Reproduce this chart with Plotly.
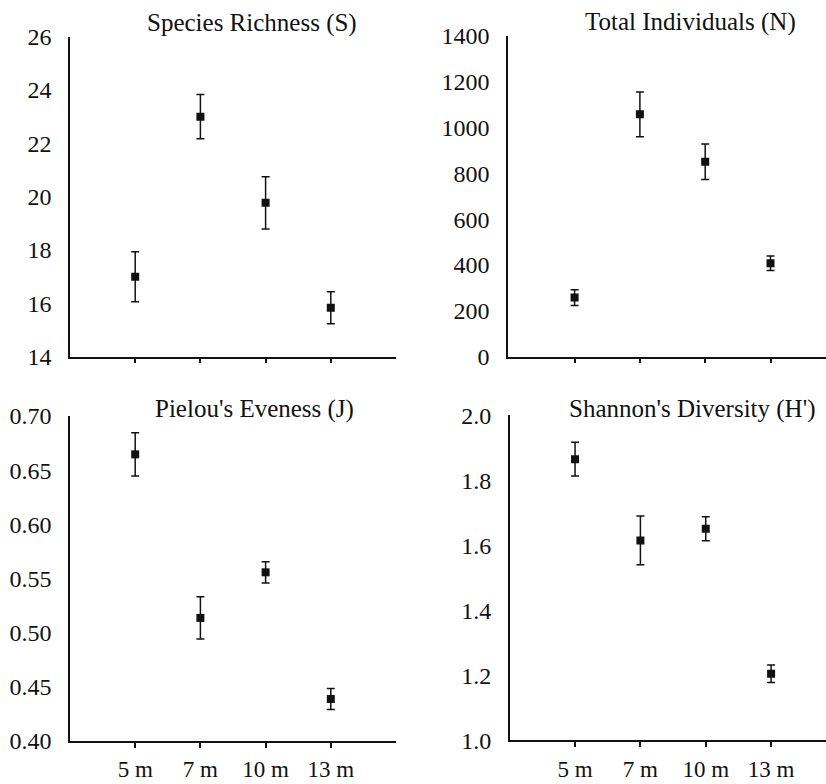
import plotly.graph_objects as go

categories = ["5 m", "7 m", "10 m", "13 m"]

richness = [17.0, 23.0, 19.77, 15.84]
richness_err = [0.94, 0.83, 0.98, 0.60]

individuals = [258, 1058, 851, 408]
individuals_err = [34, 98, 77, 32]

evenness = [0.6646, 0.5136, 0.5557, 0.4388]
evenness_err = [0.020, 0.0195, 0.0098, 0.0097]

diversity = [1.865, 1.615, 1.651, 1.205]
diversity_err = [0.052, 0.075, 0.037, 0.027]

titles = ["Species Richness (S)", "Total Individuals (N)",
          "Pielou's Eveness (J)", "Shannon's Diversity (H')"]

W, H = 826, 784
FONT = "Liberation Serif, Times New Roman, serif"
INK = "#111111"

def px_x(p):
    return p / W

def px_y(p):
    return 1 - p / H

panels = [
    dict(vals=richness, err=richness_err, xd=[px_x(70), px_x(396)], xr=[-1, 4],
         yd=[px_y(356.7), px_y(36.7)], yr=[14, 26], dt=2, fmt="", labels=False,
         title=titles[0], tx=251.7, ty=23),
    dict(vals=individuals, err=individuals_err, xd=[px_x(508), 1.0], xr=[-1.02, 3.85],
         yd=[px_y(356.7), px_y(36.0)], yr=[0, 1400], dt=200, fmt="", labels=False,
         title=titles[1], tx=690.5, ty=22),
    dict(vals=evenness, err=evenness_err, xd=[px_x(70), px_x(396)], xr=[-1, 4],
         yd=[px_y(741), px_y(416)], yr=[0.40, 0.70], dt=0.05, fmt=".2f", labels=True,
         title=titles[2], tx=254, ty=408.7),
    dict(vals=diversity, err=diversity_err, xd=[px_x(509.7), 1.0], xr=[-1.0, 3.84],
         yd=[px_y(740.3), px_y(415.3)], yr=[1.0, 2.0], dt=0.2, fmt=".1f", labels=True,
         title=titles[3], tx=692, ty=408.7),
]

fig = go.Figure()
layout = dict(
    width=W, height=H, margin=dict(l=0, r=0, t=0, b=0, autoexpand=False),
    paper_bgcolor="white", plot_bgcolor="white", showlegend=False,
    font=dict(family=FONT, color=INK, size=24),
)
annotations = []
xpos = list(range(len(categories)))
for i, p in enumerate(panels, start=1):
    sfx = "" if i == 1 else str(i)
    fig.add_trace(go.Scatter(
        x=xpos, y=p["vals"], mode="markers",
        marker=dict(symbol="square", size=8, color=INK),
        error_y=dict(type="data", array=p["err"], visible=True, color=INK,
                     thickness=1.5, width=4),
        xaxis="x" + sfx, yaxis="y" + sfx,
    ))
    layout["xaxis" + sfx] = dict(
        domain=p["xd"], range=p["xr"], anchor="y" + sfx, automargin=False,
        tickmode="array", tickvals=xpos,
        ticktext=categories if p["labels"] else ["", "", "", ""],
        ticks="outside", ticklen=5, tickwidth=1.5, tickcolor=INK,
        showline=True, linecolor=INK, linewidth=1.5,
        showgrid=False, zeroline=False, ticklabelstandoff=2,
        tickfont=dict(family=FONT, size=23, color=INK),
    )
    layout["yaxis" + sfx] = dict(
        domain=p["yd"], range=p["yr"], anchor="x" + sfx, automargin=False,
        tickmode="linear", tick0=p["yr"][0], dtick=p["dt"], tickformat=p["fmt"],
        ticks="", showline=True, linecolor=INK, linewidth=1.5,
        showgrid=False, zeroline=False, ticklabelstandoff=12,
        tickfont=dict(family=FONT, size=24, color=INK),
    )
    annotations.append(dict(
        text=p["title"], x=px_x(p["tx"]), y=px_y(p["ty"]),
        xref="paper", yref="paper", xanchor="center", yanchor="middle",
        showarrow=False, font=dict(family=FONT, size=25, color=INK),
    ))
layout["annotations"] = annotations
fig.update_layout(**layout)
fig.write_html("out.html")
